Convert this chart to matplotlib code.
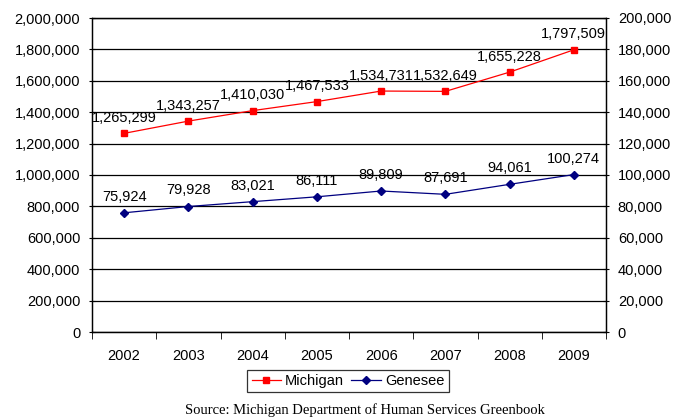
import matplotlib
matplotlib.use("Agg")
import matplotlib.pyplot as plt
from matplotlib.ticker import FuncFormatter, FixedLocator

years = ["2002", "2003", "2004", "2005", "2006", "2007", "2008", "2009"]
michigan = [1265299, 1343257, 1410030, 1467533, 1534731, 1532649, 1655228, 1797509]
genesee = [75924, 79928, 83021, 86111, 89809, 87691, 94061, 100274]

plt.rcParams["font.family"] = ["Liberation Sans", "DejaVu Sans"]
FS = 10.5

fig = plt.figure(figsize=(6.81, 4.17), dpi=100)
ax = fig.add_axes([92 / 681, 1 - 332 / 417, (606 - 92) / 681, (332 - 18) / 417])
ax2 = ax.twinx()

x = list(range(1, len(years) + 1))
comma = FuncFormatter(lambda v, p: f"{int(v):,}")

ax.set_xlim(0.5, len(years) + 0.5)
ax.set_ylim(0, 2000000)
ax2.set_ylim(0, 200000)
ax.set_yticks(range(0, 2000001, 200000))
ax2.set_yticks(range(0, 200001, 20000))
ax.yaxis.set_major_formatter(comma)
ax2.yaxis.set_major_formatter(comma)

ax.set_xticks(x)
ax.set_xticklabels(years, fontsize=FS)
ax.tick_params(axis="x", which="major", length=0, pad=12)
ax.xaxis.set_minor_locator(FixedLocator([i + 0.5 for i in range(0, len(years) + 1)]))
ax.tick_params(axis="x", which="minor", length=5, direction="out", color="black")
ax.tick_params(axis="y", length=5, direction="inout", labelsize=FS, pad=6)
ax2.tick_params(axis="y", length=5, direction="inout", labelsize=FS, pad=6)

ax.grid(axis="y", color="black", linewidth=0.9)
ax.set_axisbelow(True)
for a in (ax, ax2):
    for s in a.spines.values():
        s.set_color("black")
        s.set_linewidth(0.9)

lm, = ax.plot(x, michigan, color="#ff0000", marker="s", markersize=5, linewidth=0.9,
              label="Michigan", zorder=3)
lg, = ax2.plot(x, genesee, color="#000080", marker="D", markersize=4, linewidth=0.9,
               label="Genesee", zorder=3)

for xi, v in zip(x, michigan):
    ax.annotate(f"{v:,}", (xi, v), xytext=(0, 6), textcoords="offset points",
                ha="center", va="bottom", fontsize=FS)
for xi, v in zip(x, genesee):
    ax2.annotate(f"{v:,}", (xi, v), xytext=(0, 6.5), textcoords="offset points",
                 ha="center", va="bottom", fontsize=FS)

leg = fig.legend(handles=[lm, lg], loc="center", bbox_to_anchor=(348 / 681, 1 - 381 / 417),
                 ncol=2, frameon=True, fancybox=False, fontsize=FS, handlelength=2.0,
                 columnspacing=0.5, handletextpad=0.3, borderpad=0.3)
leg.get_frame().set_edgecolor("black")
leg.get_frame().set_linewidth(0.9)

fig.text(365 / 681, 1 - 410 / 417, "Source: Michigan Department of Human Services Greenbook",
         ha="center", va="center", fontsize=10.5, family=["Liberation Serif", "DejaVu Serif"])

fig.savefig("out.png", dpi=100)
